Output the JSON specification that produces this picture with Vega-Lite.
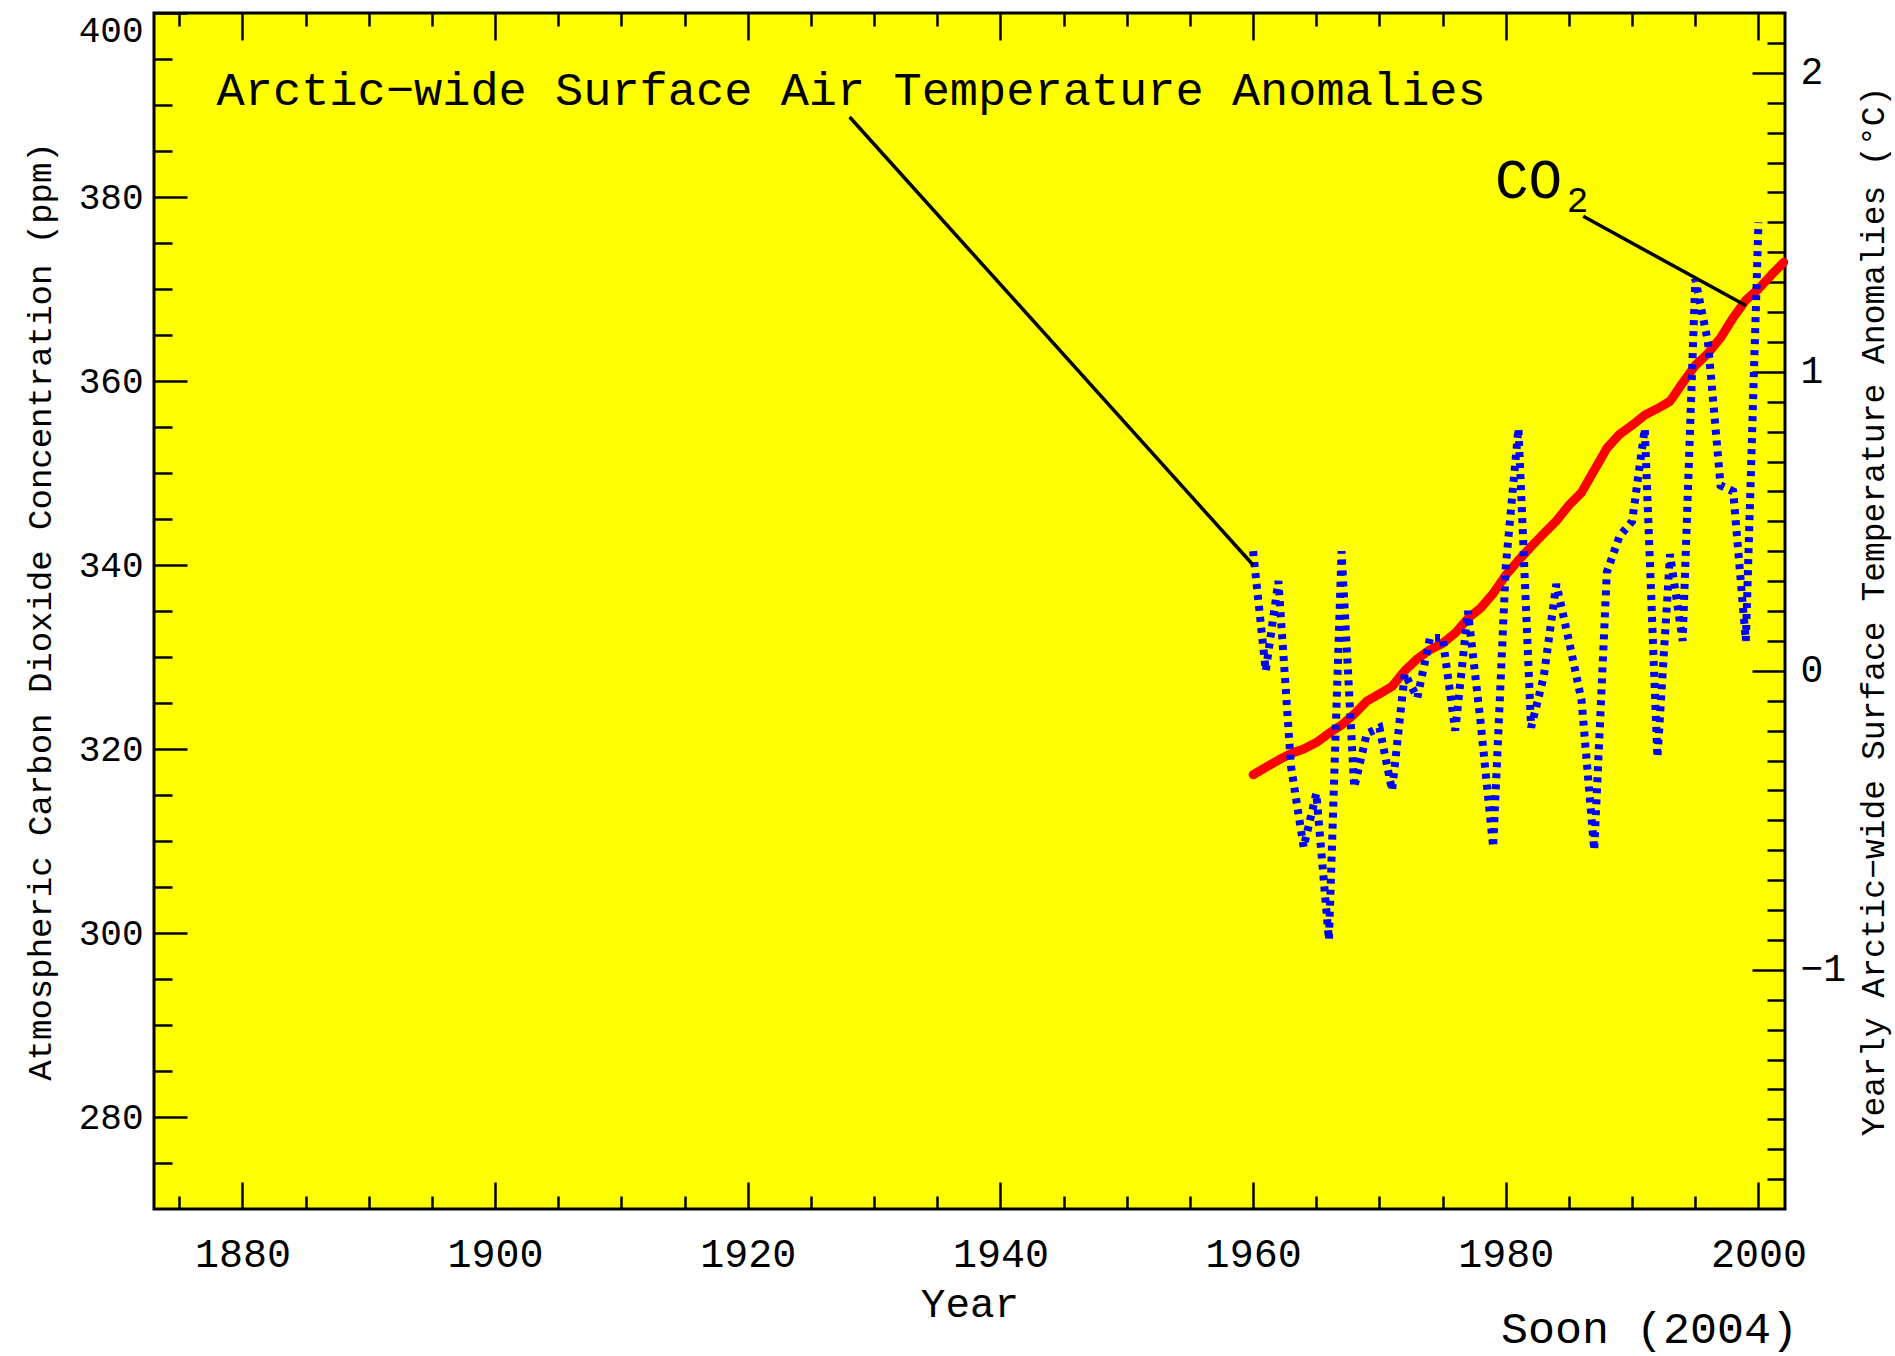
{
  "$schema": "https://vega.github.io/schema/vega-lite/v6.json",
  "width": 1631,
  "height": 1196,
  "autosize": {"type": "none"},
  "padding": {"left": 154, "top": 13, "right": 110, "bottom": 147},
  "background": "white",
  "config": {
    "view": {"stroke": "black", "strokeWidth": 3, "fill": "#ffff00"},
    "font": "Liberation Mono",
    "axis": {
      "grid": true, "gridColor": "black", "gridWidth": 2.5, "gridOpacity": 1,
      "domain": false, "ticks": false,
      "labelFont": "Liberation Mono", "labelColor": "black", "titleFont": "Liberation Mono",
      "titleColor": "black", "titleFontWeight": "normal", "labelOverlap": false, "labelFlush": false
    }
  },
  "title": {
    "text": "Soon (2004)", "orient": "bottom", "anchor": "end", "frame": "group",
    "font": "Liberation Mono", "fontSize": 45, "fontWeight": "normal", "color": "black",
    "baseline": "alphabetic", "offset": 19, "dx": 13
  },
  "datasets": {
    "co2": [
      {"year": 1960, "co2": 317.2}, {"year": 1961, "co2": 318.0}, {"year": 1962, "co2": 318.8},
      {"year": 1963, "co2": 319.5}, {"year": 1964, "co2": 320.0}, {"year": 1965, "co2": 320.7},
      {"year": 1966, "co2": 321.7}, {"year": 1967, "co2": 322.6}, {"year": 1968, "co2": 323.8},
      {"year": 1969, "co2": 325.2}, {"year": 1970, "co2": 326.0}, {"year": 1971, "co2": 326.8},
      {"year": 1972, "co2": 328.5}, {"year": 1973, "co2": 329.8}, {"year": 1974, "co2": 330.8},
      {"year": 1975, "co2": 331.5}, {"year": 1976, "co2": 332.6}, {"year": 1977, "co2": 334.2},
      {"year": 1978, "co2": 335.3}, {"year": 1979, "co2": 336.9}, {"year": 1980, "co2": 338.9},
      {"year": 1981, "co2": 340.5}, {"year": 1982, "co2": 342.0}, {"year": 1983, "co2": 343.4},
      {"year": 1984, "co2": 344.8}, {"year": 1985, "co2": 346.5}, {"year": 1986, "co2": 347.9},
      {"year": 1987, "co2": 350.3}, {"year": 1988, "co2": 352.7}, {"year": 1989, "co2": 354.2},
      {"year": 1990, "co2": 355.2}, {"year": 1991, "co2": 356.3}, {"year": 1992, "co2": 357.0},
      {"year": 1993, "co2": 357.8}, {"year": 1994, "co2": 359.8}, {"year": 1995, "co2": 361.7},
      {"year": 1996, "co2": 363.0}, {"year": 1997, "co2": 364.7}, {"year": 1998, "co2": 366.9},
      {"year": 1999, "co2": 368.8}, {"year": 2000, "co2": 370.0}, {"year": 2001, "co2": 371.5},
      {"year": 2002, "co2": 372.9}
    ],
    "temp": [
      {"year": 1960, "temp": 0.40}, {"year": 1961, "temp": 0.00}, {"year": 1962, "temp": 0.30},
      {"year": 1963, "temp": -0.32}, {"year": 1964, "temp": -0.59}, {"year": 1965, "temp": -0.41},
      {"year": 1966, "temp": -0.90}, {"year": 1967, "temp": 0.40}, {"year": 1968, "temp": -0.39},
      {"year": 1969, "temp": -0.21}, {"year": 1970, "temp": -0.19}, {"year": 1971, "temp": -0.40},
      {"year": 1972, "temp": -0.01}, {"year": 1973, "temp": -0.09}, {"year": 1974, "temp": 0.11},
      {"year": 1975, "temp": 0.11}, {"year": 1976, "temp": -0.20}, {"year": 1977, "temp": 0.20},
      {"year": 1978, "temp": -0.17}, {"year": 1979, "temp": -0.59}, {"year": 1980, "temp": 0.35},
      {"year": 1981, "temp": 0.81}, {"year": 1982, "temp": -0.19}, {"year": 1983, "temp": -0.02},
      {"year": 1984, "temp": 0.29}, {"year": 1985, "temp": 0.10}, {"year": 1986, "temp": -0.10},
      {"year": 1987, "temp": -0.60}, {"year": 1988, "temp": 0.33}, {"year": 1989, "temp": 0.45},
      {"year": 1990, "temp": 0.50}, {"year": 1991, "temp": 0.81}, {"year": 1992, "temp": -0.29},
      {"year": 1993, "temp": 0.39}, {"year": 1994, "temp": 0.10}, {"year": 1995, "temp": 1.31},
      {"year": 1996, "temp": 1.10}, {"year": 1997, "temp": 0.62}, {"year": 1998, "temp": 0.60},
      {"year": 1999, "temp": 0.10}, {"year": 2000, "temp": 1.50}
    ],
    "leaders": [
      {"x1": 1928.06, "y1": 388.7, "x2": 1960.0, "y2": 340.0},
      {"x1": 1986.13, "y1": 377.9, "x2": 1999.0, "y2": 368.2}
    ],
    "mainLabel": [{"label": "Arctic−wide Surface Air Temperature Anomalies", "year": 1877.95, "ppm": 390.0}],
    "co2Label": [{"label": "CO", "year": 1979.14, "ppm": 379.86}],
    "co2Sub": [{"label": "2", "year": 1984.82, "ppm": 378.4}]
  },
  "layer": [
    {
      "data": {"name": "co2"},
      "mark": {"type": "line", "color": "#ff0000", "strokeWidth": 9, "strokeCap": "round", "strokeJoin": "round"},
      "encoding": {
        "x": {
          "field": "year", "type": "quantitative",
          "scale": {"domain": [1873, 2002.1], "nice": false, "zero": false},
          "axis": {
            "orient": "bottom", "title": "Year", "grid": true,
            "values": [1875,1880,1885,1890,1895,1900,1905,1910,1915,1920,1925,1930,1935,1940,1945,1950,1955,1960,1965,1970,1975,1980,1985,1990,1995,2000],
            "labelExpr": "datum.value % 20 === 0 ? '' + datum.value : ''",
            "labelFontSize": 40, "labelPadding": 25, "titleFontSize": 41, "titlePadding": 10,
            "gridDash": {"condition": {"test": "datum.value % 20 === 0", "value": [27, 1142]}, "value": [13, 1170]}
          }
        },
        "y": {
          "field": "co2", "type": "quantitative",
          "scale": {"domain": [270, 400], "nice": false, "zero": false},
          "axis": {
            "orient": "left", "title": "Atmospheric Carbon Dioxide Concentration (ppm)", "grid": true,
            "values": [275,280,285,290,295,300,305,310,315,320,325,330,335,340,345,350,355,360,365,370,375,380,385,390,395,400],
            "labelExpr": "datum.value % 20 === 0 ? '' + datum.value : ''",
            "labelFontSize": 36, "labelPadding": 11, "labelFlush": true,
            "titleFontSize": 34, "titlePadding": 21,
            "gridDash": {"condition": {"test": "datum.value % 20 === 0", "value": [33, 4000]}, "value": [18, 4000]}
          }
        }
      }
    },
    {
      "data": {"name": "temp"},
      "mark": {"type": "line", "color": "#0000ff", "strokeWidth": 8, "strokeDash": [5, 6]},
      "encoding": {
        "x": {
          "field": "year", "type": "quantitative",
          "scale": {"domain": [1873, 2002.1], "nice": false, "zero": false},
          "axis": null
        },
        "y": {
          "field": "temp", "type": "quantitative",
          "scale": {"domain": [-1.8, 2.2], "nice": false, "zero": false},
          "axis": {
            "orient": "right", "title": "Yearly Arctic−wide Surface Temperature Anomalies (°C)", "grid": true,
            "values": [-1.7,-1.6,-1.5,-1.4,-1.3,-1.2,-1.1,-1,-0.9,-0.8,-0.7,-0.6,-0.5,-0.4,-0.3,-0.2,-0.1,0,0.1,0.2,0.3,0.4,0.5,0.6,0.7,0.8,0.9,1,1.1,1.2,1.3,1.4,1.5,1.6,1.7,1.8,1.9,2,2.1],
            "labelExpr": "abs(datum.value - round(datum.value)) < 0.01 ? format(round(datum.value), 'd') : ''",
            "labelFontSize": 38, "labelPadding": 15,
            "titleFontSize": 33, "titleAngle": -90, "titleBaseline": "top", "titlePadding": 12,
            "gridDash": {"condition": {"test": "abs(datum.value - round(datum.value)) < 0.01", "value": [33, 4000]}, "value": [18, 4000]}
          }
        }
      }
    },
    {
      "data": {"name": "leaders"},
      "mark": {"type": "rule", "color": "black", "strokeWidth": 3.5},
      "encoding": {
        "x": {"field": "x1", "type": "quantitative", "scale": {"domain": [1873, 2002.1], "nice": false, "zero": false}, "axis": null},
        "x2": {"field": "x2"},
        "y": {"field": "y1", "type": "quantitative", "scale": {"domain": [270, 400], "nice": false, "zero": false}, "axis": null},
        "y2": {"field": "y2"}
      }
    },
    {
      "data": {"name": "mainLabel"},
      "mark": {"type": "text", "font": "Liberation Mono", "fontSize": 47, "align": "left", "baseline": "alphabetic", "color": "black"},
      "encoding": {
        "x": {"field": "year", "type": "quantitative", "scale": {"domain": [1873, 2002.1], "nice": false, "zero": false}, "axis": null},
        "y": {"field": "ppm", "type": "quantitative", "scale": {"domain": [270, 400], "nice": false, "zero": false}, "axis": null},
        "text": {"field": "label"}
      }
    },
    {
      "data": {"name": "co2Label"},
      "mark": {"type": "text", "font": "Liberation Mono", "fontSize": 56, "align": "left", "baseline": "alphabetic", "color": "black"},
      "encoding": {
        "x": {"field": "year", "type": "quantitative", "scale": {"domain": [1873, 2002.1], "nice": false, "zero": false}, "axis": null},
        "y": {"field": "ppm", "type": "quantitative", "scale": {"domain": [270, 400], "nice": false, "zero": false}, "axis": null},
        "text": {"field": "label"}
      }
    },
    {
      "data": {"name": "co2Sub"},
      "mark": {"type": "text", "font": "Liberation Mono", "fontSize": 36, "align": "left", "baseline": "alphabetic", "color": "black"},
      "encoding": {
        "x": {"field": "year", "type": "quantitative", "scale": {"domain": [1873, 2002.1], "nice": false, "zero": false}, "axis": null},
        "y": {"field": "ppm", "type": "quantitative", "scale": {"domain": [270, 400], "nice": false, "zero": false}, "axis": null},
        "text": {"field": "label"}
      }
    }
  ],
  "resolve": {"scale": {"y": "independent"}, "axis": {"x": "independent"}}
}
